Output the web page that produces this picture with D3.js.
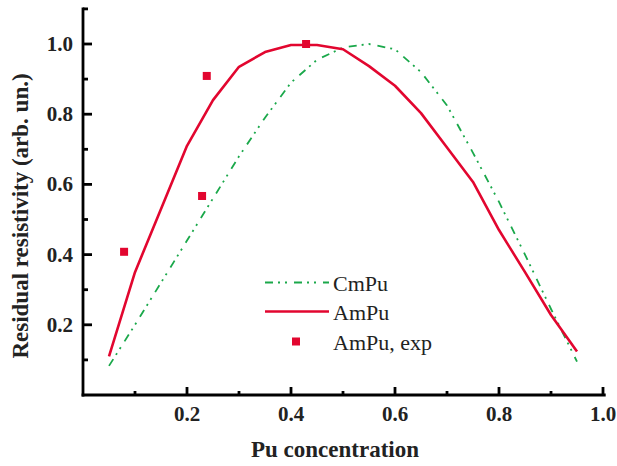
<!DOCTYPE html>
<html><head><meta charset="utf-8">
<script src="https://cdn.jsdelivr.net/npm/d3@7"></script>
<style>
body{margin:0;background:#fff;}
text{font-family:"Liberation Serif","Times New Roman",serif;fill:#222;}
</style></head>
<body><svg id="c" width="617" height="466"></svg>
<script>
const xs = [0.05,0.10,0.15,0.20,0.25,0.30,0.35,0.40,0.45,0.50,0.55,0.60,0.65,0.70,0.75,0.80,0.85,0.90,0.95];
const cmPu = [0.083,0.20,0.32,0.44,0.56,0.68,0.79,0.89,0.955,0.99,1.0,0.985,0.92,0.825,0.69,0.55,0.40,0.245,0.095];
const amPu = [0.11,0.35,0.53,0.71,0.84,0.935,0.977,0.997,0.997,0.985,0.937,0.881,0.803,0.705,0.607,0.47,0.35,0.228,0.124];
const expX = [0.079,0.229,0.238,0.429];
const expY = [0.408,0.567,0.909,1.0];
const xTicks = [0.2,0.4,0.6,0.8,1.0];
const yTicks = [0.2,0.4,0.6,0.8,1.0];
const xMinor = [0.1,0.3,0.5,0.7,0.9];
const yMinor = [0.1,0.3,0.5,0.7,0.9,1.1];
const legendNames = ["CmPu","AmPu","AmPu, exp"];

const red = "#e2062f", green = "#1aa84a";
const svg = d3.select("#c");
const x = d3.scaleLinear().domain([0,1]).range([83,603]);
const y = d3.scaleLinear().domain([0,1.1]).range([395,8.9]);

const line = d3.line().x(d=>x(d[0])).y(d=>y(d[1]));
svg.append("path").datum(xs.map((v,i)=>[v,cmPu[i]])).attr("d",line)
  .attr("fill","none").attr("stroke",green).attr("stroke-width",1.8)
  .attr("stroke-dasharray","8,5,2,5,2,7");
svg.append("path").datum(xs.map((v,i)=>[v,amPu[i]])).attr("d",line)
  .attr("fill","none").attr("stroke",red).attr("stroke-width",2.6).attr("stroke-linejoin","round");
svg.selectAll("rect.exp").data(expX.map((v,i)=>[v,expY[i]])).enter().append("rect")
  .attr("class","exp").attr("x",d=>x(d[0])-4).attr("y",d=>y(d[1])-4)
  .attr("width",8).attr("height",8).attr("fill",red);

// axes
const ax = svg.append("g").attr("stroke","#000").attr("stroke-width",2.8);
ax.append("line").attr("x1",x(0)).attr("x2",x(1)+1.3).attr("y1",y(0)).attr("y2",y(0)).attr("stroke-linecap","square");
ax.append("line").attr("x1",x(0)).attr("x2",x(0)).attr("y1",y(0)).attr("y2",y(1.1)).attr("stroke-linecap","square");
xTicks.forEach(t=>ax.append("line").attr("x1",x(t)).attr("x2",x(t)).attr("y1",y(0)).attr("y2",y(0)-8));
xMinor.forEach(t=>ax.append("line").attr("x1",x(t)).attr("x2",x(t)).attr("y1",y(0)).attr("y2",y(0)-4));
yTicks.forEach(t=>ax.append("line").attr("x1",x(0)).attr("x2",x(0)+9).attr("y1",y(t)).attr("y2",y(t)));
yMinor.forEach(t=>ax.append("line").attr("x1",x(0)).attr("x2",x(0)+5).attr("y1",y(t)).attr("y2",y(t)));

const fmt = d3.format(".1f");
svg.selectAll("text.xt").data(xTicks).enter().append("text").attr("class","xt")
  .attr("x",d=>x(d)).attr("y",421).attr("text-anchor","middle")
  .attr("font-size",21).attr("font-weight","bold").text(fmt);
svg.selectAll("text.yt").data(yTicks).enter().append("text").attr("class","yt")
  .attr("x",73).attr("y",d=>y(d)+7).attr("text-anchor","end")
  .attr("font-size",21).attr("font-weight","bold").text(fmt);

svg.append("text").attr("x",335).attr("y",457).attr("text-anchor","middle")
  .attr("font-size",23).attr("font-weight","bold").text("Pu concentration");
svg.append("text").attr("transform","translate(28,216) rotate(-90)").attr("text-anchor","middle")
  .attr("font-size",23).attr("font-weight","bold").text("Residual resistivity (arb. un.)");

// legend
const lg = svg.append("g");
const ly = [282.5,311.5,341.5];
lg.append("line").attr("x1",265).attr("x2",329).attr("y1",ly[0]).attr("y2",ly[0])
  .attr("stroke",green).attr("stroke-width",1.8).attr("stroke-dasharray","8,5,2,5,2,7");
lg.append("line").attr("x1",265).attr("x2",329).attr("y1",ly[1]).attr("y2",ly[1])
  .attr("stroke",red).attr("stroke-width",2.6);
lg.append("rect").attr("x",292).attr("y",ly[2]-4).attr("width",8).attr("height",8).attr("fill",red);
legendNames.forEach((n,i)=>lg.append("text").attr("x",333).attr("y",ly[i]+8.5)
  .attr("font-size",22).text(n));
</script></body></html>
